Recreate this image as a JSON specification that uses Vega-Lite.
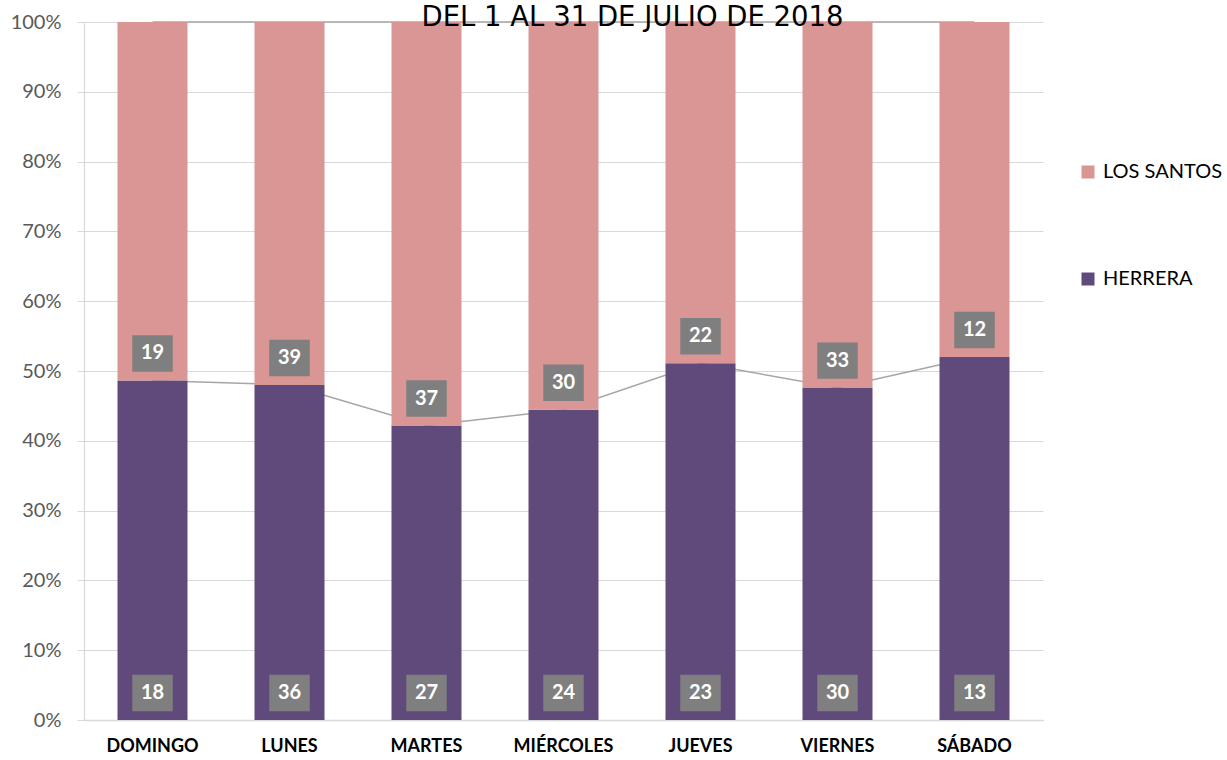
{
  "$schema": "https://vega.github.io/schema/vega-lite/v6.json",
  "width": 959,
  "height": 698,
  "autosize": {"type": "none"},
  "padding": {"left": 84, "top": 22, "right": 184, "bottom": 40},
  "background": "white",
  "config": {
    "view": {"stroke": null},
    "font": "Lato",
    "axisY": {
      "format": ".0%",
      "labelFont": "Lato",
      "labelFontSize": 20,
      "labelColor": "#595959",
      "labelPadding": 16,
      "tickSize": 7,
      "tickColor": "#d9d9d9",
      "gridColor": "#d9d9d9",
      "gridWidth": 1.2,
      "domainColor": "#d9d9d9",
      "domainWidth": 1.2,
      "title": null
    },
    "axisX": {
      "labelAngle": 0,
      "labelFont": "Lato",
      "labelFontSize": 18,
      "labelFontWeight": "bold",
      "labelColor": "#000000",
      "labelPadding": 17,
      "ticks": false,
      "domainColor": "#d9d9d9",
      "domainWidth": 1.5,
      "grid": false,
      "title": null
    }
  },
  "title": {
    "text": "DEL 1 AL 31 DE JULIO DE 2018",
    "font": "DejaVu Sans",
    "fontSize": 27.5,
    "fontWeight": "normal",
    "color": "#000000",
    "anchor": "middle",
    "dx": 69,
    "offset": 0,
    "baseline": "alphabetic",
    "dy": 41
  },
  "data": {
    "values": [
      {"dia": "DOMINGO", "serie": "HERRERA", "valor": 18},
      {"dia": "DOMINGO", "serie": "LOS SANTOS", "valor": 19},
      {"dia": "LUNES", "serie": "HERRERA", "valor": 36},
      {"dia": "LUNES", "serie": "LOS SANTOS", "valor": 39},
      {"dia": "MARTES", "serie": "HERRERA", "valor": 27},
      {"dia": "MARTES", "serie": "LOS SANTOS", "valor": 37},
      {"dia": "MIÉRCOLES", "serie": "HERRERA", "valor": 24},
      {"dia": "MIÉRCOLES", "serie": "LOS SANTOS", "valor": 30},
      {"dia": "JUEVES", "serie": "HERRERA", "valor": 23},
      {"dia": "JUEVES", "serie": "LOS SANTOS", "valor": 22},
      {"dia": "VIERNES", "serie": "HERRERA", "valor": 30},
      {"dia": "VIERNES", "serie": "LOS SANTOS", "valor": 33},
      {"dia": "SÁBADO", "serie": "HERRERA", "valor": 13},
      {"dia": "SÁBADO", "serie": "LOS SANTOS", "valor": 12}
    ]
  },
  "transform": [
    {
      "stack": "valor",
      "groupby": ["dia"],
      "offset": "normalize",
      "sort": [{"field": "serie", "order": "ascending"}],
      "as": ["y0", "y1"]
    }
  ],
  "encoding": {
    "x": {
      "field": "dia",
      "type": "nominal",
      "title": null,
      "sort": ["DOMINGO", "LUNES", "MARTES", "MIÉRCOLES", "JUEVES", "VIERNES", "SÁBADO"],
      "scale": {"paddingInner": 0.489, "paddingOuter": 0.2445}
    }
  },
  "layer": [
    {
      "mark": {"type": "line", "color": "#a6a6a6", "strokeWidth": 1.5},
      "encoding": {
        "y": {
          "field": "y1",
          "type": "quantitative",
          "title": null,
          "scale": {"domain": [0, 1]},
          "axis": {"values": [0, 0.1, 0.2, 0.3, 0.4, 0.5, 0.6, 0.7, 0.8, 0.9, 1], "format": ".0%", "title": null}
        },
        "detail": {"field": "serie"}
      }
    },
    {
      "mark": {"type": "bar"},
      "encoding": {
        "y": {"field": "y0", "type": "quantitative", "title": null},
        "y2": {"field": "y1"},
        "color": {
          "field": "serie",
          "type": "nominal",
          "scale": {"domain": ["LOS SANTOS", "HERRERA"], "range": ["#d99694", "#604a7b"]},
          "legend": {
            "orient": "none",
            "legendX": 994,
            "legendY": 140,
            "title": null,
            "symbolType": "square",
            "symbolSize": 169,
            "symbolStrokeWidth": 0,
            "labelFont": "Lato",
            "labelFontSize": 20,
            "labelColor": "#000000",
            "labelOffset": 5,
            "rowPadding": 87
          }
        }
      }
    },
    {
      "mark": {
        "type": "point",
        "shape": "M-1,-0.9L1,-0.9L1,0.9L-1,0.9Z",
        "size": 1640,
        "filled": true,
        "color": "#7f7f7f",
        "opacity": 1,
        "strokeWidth": 0,
        "yOffset": -27
      },
      "encoding": {
        "y": {"field": "y0", "type": "quantitative", "title": null}
      }
    },
    {
      "mark": {
        "type": "text",
        "color": "#ffffff",
        "font": "Lato",
        "fontWeight": "bold",
        "fontSize": 20,
        "baseline": "middle",
        "yOffset": -27
      },
      "encoding": {
        "y": {"field": "y0", "type": "quantitative", "title": null},
        "text": {"field": "valor", "type": "quantitative"}
      }
    }
  ]
}
